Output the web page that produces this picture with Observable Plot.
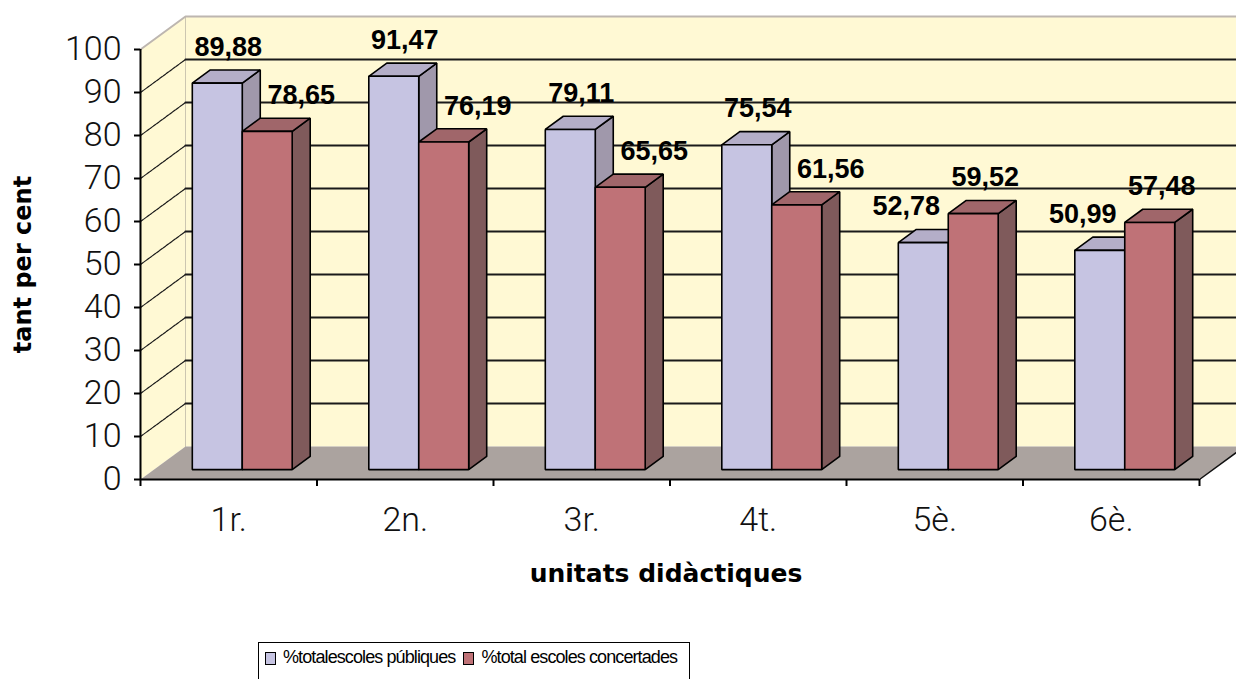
<!DOCTYPE html>
<html>
<head>
<meta charset="utf-8">
<script src="https://cdn.jsdelivr.net/npm/d3@7"></script>
<script src="https://cdn.jsdelivr.net/npm/@observablehq/plot@0.6"></script>
<style>
  html, body { margin: 0; padding: 0; background: #fff; overflow: hidden; }
  #chart svg { display: block; }
  .legend {
    margin-left: 258px; margin-top: 10px; width: 432px; height: 40px;
    border: 1.5px solid #000; box-sizing: border-box;
    font-family: "Liberation Sans", Arial, sans-serif; font-size: 18px; letter-spacing: -0.9px; color: #000;
    display: flex; align-items: flex-start; padding-top: 4px; padding-left: 6px;
  }
  .legend .sw { display: inline-block; width: 9px; height: 11px; border: 1px solid #000; margin: 5px 7px 0 0; }
  .legend .item { display: flex; align-items: flex-start; margin-right: 8px; white-space: nowrap; }
</style>
</head>
<body>
<div id="chart"></div>
<div class="legend" id="legend"></div>
<script>
// ---- data ----
const categories = ["1r.", "2n.", "3r.", "4t.", "5è.", "6è."];
const publiques = [89.88, 91.47, 79.11, 75.54, 52.78, 50.99];
const concertades = [78.65, 76.19, 65.65, 61.56, 59.52, 57.48];
const seriesNames = ["%totalescoles públiques", "%total escoles concertades"];
const yTicks = [0, 10, 20, 30, 40, 50, 60, 70, 80, 90, 100];
const gridValues = [10, 20, 30, 40, 50, 60, 70, 80, 90];

// ---- styles / geometry ----
const colors = {
  wall: "#FFF9D4", floor: "#ABA39F",
  blue: {front: "#C6C4E2", top: "#B4AEC8", side: "#A098AB"},
  red: {front: "#BF7277", top: "#A0666A", side: "#7F5A5B"}
};
const nCat = categories.length;
const DX = 0.255;   // full depth, in category units
const DY = 7.67;    // full depth, in value units
const pxPerCat = 176.5;
const P = (c, v, z) => ({x: c + z * DX, y: v + z * DY});

const polys = [];
let pid = 0;
function poly(pts, fill) {
  const id = pid++;
  for (const p of pts) polys.push({...p, id, fill});
}

const barW = 0.283, z0 = 0.3, z1 = 0.7;
const labels = [];
categories.forEach((cat, i) => {
  const vals = [publiques[i], concertades[i]];
  vals.forEach((v, s) => {
    const col = s === 0 ? colors.blue : colors.red;
    const x0 = i + 0.5 - barW + s * barW, x1 = x0 + barW;
    poly([P(x1, 0, z0), P(x1, 0, z1), P(x1, v, z1), P(x1, v, z0)], col.side);
    poly([P(x0, v, z0), P(x1, v, z0), P(x1, v, z1), P(x0, v, z1)], col.top);
    poly([P(x0, 0, z0), P(x1, 0, z0), P(x1, v, z0), P(x0, v, z0)], col.front);
    const blueHigher = vals[0] >= vals[1];
    const dxPx = s === 0 ? (blueHigher ? 11 : -17) : (blueHigher ? 34 : 12);
    const f = P((x0 + x1) / 2, v, z0);
    labels.push({x: f.x + dxPx / pxPerCat, y: f.y, text: v.toFixed(2).replace(".", ",")});
  });
});

const wall = [P(0, 0, 1), P(nCat, 0, 1), P(nCat, 100, 1), P(0, 100, 1)];
const side = [P(0, 0, 0), P(0, 100, 0), P(0, 100, 1), P(0, 0, 1)];
const floor = [P(0, 0, 0), P(nCat, 0, 0), P(nCat, 0, 1), P(0, 0, 1)];

const backGrid = gridValues.flatMap(v => [{...P(0, v, 1), v}, {...P(nCat, v, 1), v}]);
const sideGrid = gridValues.flatMap(v => [{...P(0, v, 0), v}, {...P(0, v, 1), v}]);
const topEdge = [P(0, 100, 0), P(0, 100, 1), P(nCat, 100, 1)];
const floorRight = [P(nCat, 0, 0), P(nCat, 0, 1)];

const tickFont = "Roboto, 'Liberation Sans', sans-serif";

const chart = Plot.plot({
  width: 1236, height: 632,
  marginLeft: 140, marginRight: 37, marginTop: 49, marginBottom: 153,
  x: {domain: [0, nCat]},
  y: {domain: [0, 100]},
  style: {background: "#fff", overflow: "visible"},
  marks: [
    Plot.line(wall, {x: "x", y: "y", curve: "linear-closed", fill: colors.wall, stroke: "none"}),
    Plot.line(side, {x: "x", y: "y", curve: "linear-closed", fill: colors.wall, stroke: "none"}),
    Plot.line([P(0, 0, 1), P(0, 100, 1)], {x: "x", y: "y", stroke: "#ccc6b0", strokeWidth: 1}),
    Plot.line(backGrid, {x: "x", y: "y", z: "v", stroke: "#1a1a1a", strokeWidth: 2}),
    Plot.line(sideGrid, {x: "x", y: "y", z: "v", stroke: "#1a1a1a", strokeWidth: 1.2, strokeDasharray: "3,1"}),
    Plot.line(topEdge, {x: "x", y: "y", stroke: "#bdb6b0", strokeWidth: 2}),
    Plot.line(floor, {x: "x", y: "y", curve: "linear-closed", fill: colors.floor, stroke: "none"}),
    Plot.line(floorRight, {x: "x", y: "y", stroke: "#111", strokeWidth: 1.5}),
    Plot.line(polys, {x: "x", y: "y", z: "id", fill: "fill", curve: "linear-closed",
      stroke: "#000", strokeWidth: 1.6, strokeLinejoin: "miter"}),
    Plot.ruleX([0], {y1: 0, y2: 100, stroke: "#000", strokeWidth: 2}),
    Plot.ruleY([0], {x1: 0, x2: nCat, stroke: "#000", strokeWidth: 2}),
    Plot.axisY(yTicks, {tickSize: 6, tickPadding: 13, label: null, strokeWidth: 2,
      fontSize: 34, fontFamily: tickFont, fontWeight: 300, fill: "#111"}),
    Plot.axisX(d3.range(nCat + 1), {tickSize: 7, tickFormat: () => "", label: null, strokeWidth: 2}),
    Plot.text(categories, {x: (d, i) => i + 0.5, y: 0, dy: 41, text: d => d,
      fontSize: 34, fontFamily: tickFont, fontWeight: 300, fill: "#111", style: "letter-spacing:3px"}),
    Plot.text(labels, {x: "x", y: "y", text: "text", dy: -36, fontSize: 27,
      fontWeight: "bold", fontFamily: "'Liberation Sans', Arial, sans-serif", fill: "#000"}),
    Plot.text(["tant per cent"], {frameAnchor: "left", rotate: -90, dx: -117,
      textAnchor: "middle", lineAnchor: "middle",
      fontSize: 24, fontWeight: "bold", fontFamily: "'DejaVu Sans', sans-serif", fill: "#000"}),
    Plot.text(["unitats didàctiques"], {frameAnchor: "bottom", dx: -4, dy: 94,
      textAnchor: "middle", lineAnchor: "middle",
      fontSize: 25, fontWeight: "bold", fontFamily: "'DejaVu Sans', sans-serif", fill: "#000"})
  ]
});
document.getElementById("chart").appendChild(chart);

const legend = document.getElementById("legend");
[colors.blue.front, colors.red.front].forEach((c, i) => {
  const item = document.createElement("span");
  item.className = "item";
  const sw = document.createElement("span");
  sw.className = "sw";
  sw.style.background = c;
  item.appendChild(sw);
  item.appendChild(document.createTextNode(seriesNames[i]));
  legend.appendChild(item);
});
</script>
</body>
</html>
